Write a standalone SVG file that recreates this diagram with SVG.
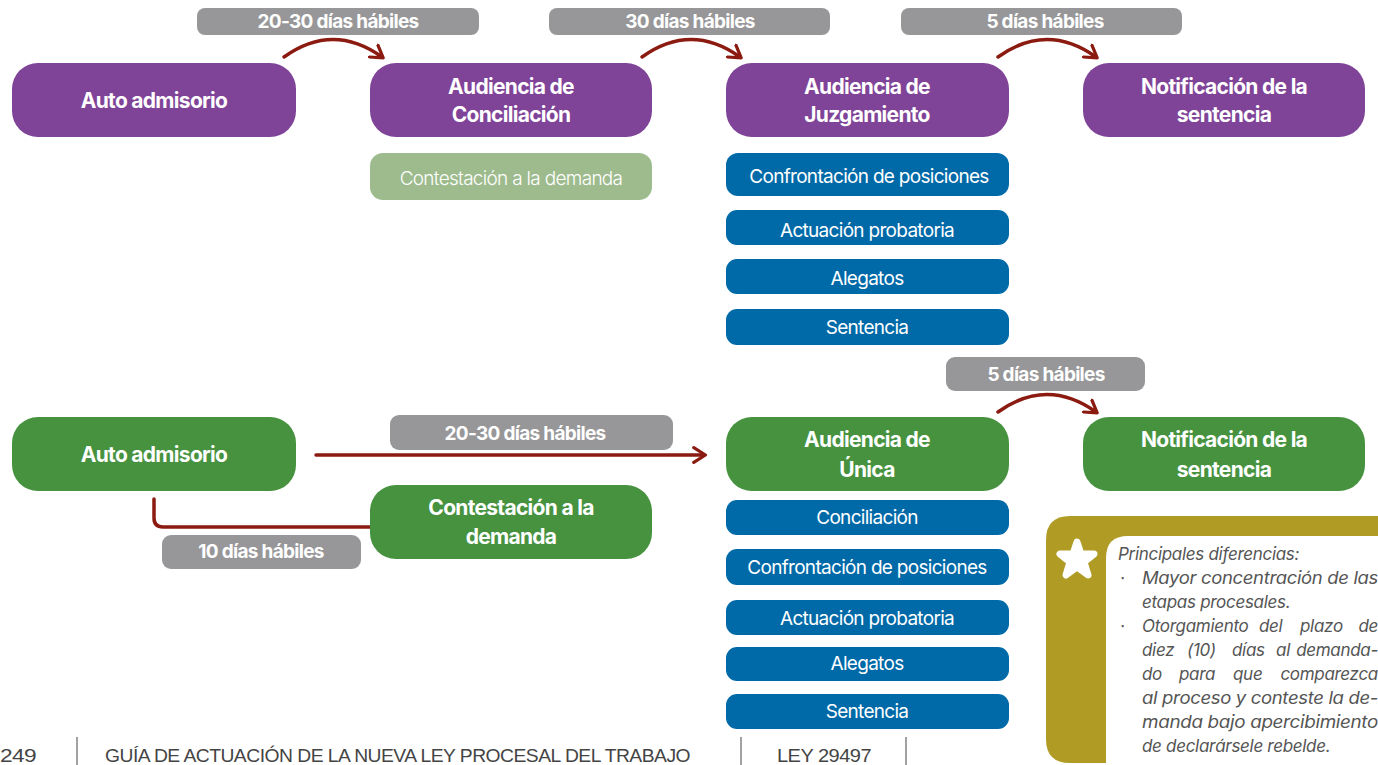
<svg xmlns="http://www.w3.org/2000/svg" width="1378" height="765" viewBox="0 0 1378 765">
<defs>
<style>
.pur{fill:#7f4398}
.grn{fill:#46923f}
.lgr{fill:#9dbb8d}
.blu{fill:#006aa8}
.gry{fill:#979799}
.t{font-family:Inter,"Open Sans",sans-serif;font-weight:700;font-size:21px;fill:#fff;text-anchor:middle;letter-spacing:-0.7px}
.g{font-family:Inter,"Open Sans",sans-serif;font-weight:700;font-size:19px;fill:#fff;text-anchor:middle;letter-spacing:-0.7px}
.b{font-family:Inter,"Open Sans",sans-serif;font-weight:400;font-size:19px;fill:#fff;text-anchor:middle;letter-spacing:-0.7px}
.n{font-family:Inter,"Open Sans",sans-serif;font-style:italic;font-size:17px;fill:#555;letter-spacing:-0.3px}
.f{font-family:"Liberation Sans",Arial,sans-serif;font-size:19px;fill:#444;letter-spacing:-0.5px}
.c{fill:none;stroke:#8b1a10;stroke-width:3.5;stroke-linecap:round;stroke-linejoin:round}
</style>
<marker id="ah" viewBox="0 0 12 12" refX="8" refY="6" markerWidth="5" markerHeight="5" orient="auto" markerUnits="strokeWidth">
<path d="M1,1 L9,6 L1,11" fill="none" stroke="#8b1a10" stroke-width="2.2" stroke-linecap="round" stroke-linejoin="round"/>
</marker>
</defs>
<rect width="1378" height="765" fill="#fff"/>

<g id="labels">
<rect class="gry" x="197" y="8" width="282" height="27" rx="8"/><text class="g" x="338" y="28">20-30 días hábiles</text>
<rect class="gry" x="549" y="8" width="281" height="27" rx="8"/><text class="g" x="690" y="28">30 días hábiles</text>
<rect class="gry" x="901" y="8" width="281" height="27" rx="8"/><text class="g" x="1045" y="28">5 días hábiles</text>
<rect class="gry" x="946" y="357" width="199" height="34" rx="9"/><text class="g" x="1046" y="381">5 días hábiles</text>
<rect class="gry" x="390" y="415" width="283" height="35" rx="9"/><text class="g" x="525" y="440">20-30 días hábiles</text>
<rect class="gry" x="162" y="535" width="199" height="34" rx="9"/><text class="g" x="261" y="558">10 días hábiles</text>
</g>

<g id="connectors">
<path class="c" d="M284,57 Q333,22 382,57" marker-end="url(#ah)"/>
<path class="c" d="M642,57 Q691,22 740,57" marker-end="url(#ah)"/>
<path class="c" d="M998,57 Q1047,22 1096,57" marker-end="url(#ah)"/>
<path class="c" d="M998,412 Q1047,377 1096,412" marker-end="url(#ah)"/>
<path class="c" d="M316,455 L704,455" marker-end="url(#ah)"/>
<path class="c" d="M154,499 L154,518 Q154,527 163,527 L370,527"/>
</g>

<g id="auto1"><rect class="pur" x="12" y="63" width="284" height="74" rx="26"/><text class="t" x="154" y="108">Auto admisorio</text></g>
<g id="conciliacion"><rect class="pur" x="370" y="63" width="282" height="74" rx="26"/><text class="t" x="511" y="94">Audiencia de</text><text class="t" x="511" y="122">Conciliación</text></g>
<g id="juzgamiento"><rect class="pur" x="726" y="63" width="283" height="74" rx="26"/><text class="t" x="867" y="94">Audiencia de</text><text class="t" x="867" y="122">Juzgamiento</text></g>
<g id="notif1"><rect class="pur" x="1083" y="63" width="282" height="74" rx="26"/><text class="t" x="1224" y="94">Notificación de la</text><text class="t" x="1224" y="122">sentencia</text></g>

<g id="contest1"><rect class="lgr" x="370" y="153" width="282" height="47" rx="13"/><text class="b" x="511" y="185" style="font-weight:300">Contestación a la demanda</text></g>
<g id="j1"><rect class="blu" x="726" y="153" width="283" height="43" rx="12"/><text class="b" x="869" y="183">Confrontación de posiciones</text></g>
<g id="j2"><rect class="blu" x="726" y="210" width="283" height="35" rx="11"/><text class="b" x="867" y="237">Actuación probatoria</text></g>
<g id="j3"><rect class="blu" x="726" y="259" width="283" height="35" rx="11"/><text class="b" x="867" y="285">Alegatos</text></g>
<g id="j4"><rect class="blu" x="726" y="309" width="283" height="36" rx="11"/><text class="b" x="867" y="334">Sentencia</text></g>

<g id="auto2"><rect class="grn" x="12" y="417" width="284" height="74" rx="26"/><text class="t" x="154" y="462">Auto admisorio</text></g>
<g id="unica"><rect class="grn" x="726" y="417" width="283" height="74" rx="26"/><text class="t" x="867" y="447">Audiencia de</text><text class="t" x="867" y="477">Única</text></g>
<g id="notif2"><rect class="grn" x="1083" y="417" width="282" height="74" rx="26"/><text class="t" x="1224" y="447">Notificación de la</text><text class="t" x="1224" y="477">sentencia</text></g>
<g id="contest2"><rect class="grn" x="370" y="485" width="282" height="74" rx="26"/><text class="t" x="511" y="515">Contestación a la</text><text class="t" x="511" y="544">demanda</text></g>

<g id="u1"><rect class="blu" x="726" y="500" width="283" height="35" rx="11"/><text class="b" x="867" y="524">Conciliación</text></g>
<g id="u2"><rect class="blu" x="726" y="549" width="283" height="36" rx="11"/><text class="b" x="867" y="574">Confrontación de posiciones</text></g>
<g id="u3"><rect class="blu" x="726" y="600" width="283" height="35" rx="11"/><text class="b" x="867" y="625">Actuación probatoria</text></g>
<g id="u4"><rect class="blu" x="726" y="647" width="283" height="34" rx="11"/><text class="b" x="867" y="670">Alegatos</text></g>
<g id="u5"><rect class="blu" x="726" y="694" width="283" height="35" rx="11"/><text class="b" x="867" y="718">Sentencia</text></g>

<g id="note">
<path d="M1070,516 L1378,516 L1378,763 L1070,763 Q1046,763 1046,739 L1046,540 Q1046,516 1070,516 Z" fill="#b09b25"/>
<path d="M1128,536 L1378,536 L1378,765 L1106,765 L1106,558 Q1106,536 1128,536 Z" fill="#fff"/>
<polygon points="1077,542 1081,554 1094,554 1084,562 1088,575 1077,567 1066,575 1070,562 1060,554 1073,554" fill="#fff" stroke="#fff" stroke-width="7" stroke-linejoin="round"/>
<text class="n" x="1118" y="560">Principales diferencias:</text>
<text class="n" x="1120" y="584">·</text><text class="n" x="1142" y="584" textLength="236" lengthAdjust="spacingAndGlyphs">Mayor concentración de las</text>
<text class="n" x="1142" y="608">etapas procesales.</text>
<text class="n" x="1120" y="632">·</text>
<text class="n" y="632"><tspan x="1142">Otorgamiento</tspan><tspan x="1259">del</tspan><tspan x="1300">plazo</tspan><tspan x="1378" text-anchor="end">de</tspan></text>
<text class="n" y="656"><tspan x="1142">diez</tspan><tspan x="1187">(10)</tspan><tspan x="1232">días</tspan><tspan x="1276">al</tspan><tspan x="1378" text-anchor="end">demanda-</tspan></text>
<text class="n" y="680"><tspan x="1142">do</tspan><tspan x="1179">para</tspan><tspan x="1233">que</tspan><tspan x="1378" text-anchor="end">comparezca</tspan></text>
<text class="n" x="1142" y="704" textLength="236" lengthAdjust="spacingAndGlyphs">al proceso y conteste la de-</text>
<text class="n" x="1142" y="728" textLength="236" lengthAdjust="spacingAndGlyphs">manda bajo apercibimiento</text>
<text class="n" x="1142" y="752">de declarársele rebelde.</text>
</g>

<g id="footer">
<text class="f" x="0" y="762" textLength="36" lengthAdjust="spacingAndGlyphs">249</text>
<line x1="77" y1="737" x2="77" y2="765" stroke="#444" stroke-width="1"/>
<text class="f" x="105" y="762" textLength="585" lengthAdjust="spacingAndGlyphs">GUÍA DE ACTUACIÓN DE LA NUEVA LEY PROCESAL DEL TRABAJO</text>
<line x1="741" y1="737" x2="741" y2="765" stroke="#444" stroke-width="1"/>
<text class="f" x="777" y="762" textLength="94" lengthAdjust="spacingAndGlyphs">LEY 29497</text>
<line x1="906" y1="737" x2="906" y2="765" stroke="#444" stroke-width="1"/>
</g>
</svg>
